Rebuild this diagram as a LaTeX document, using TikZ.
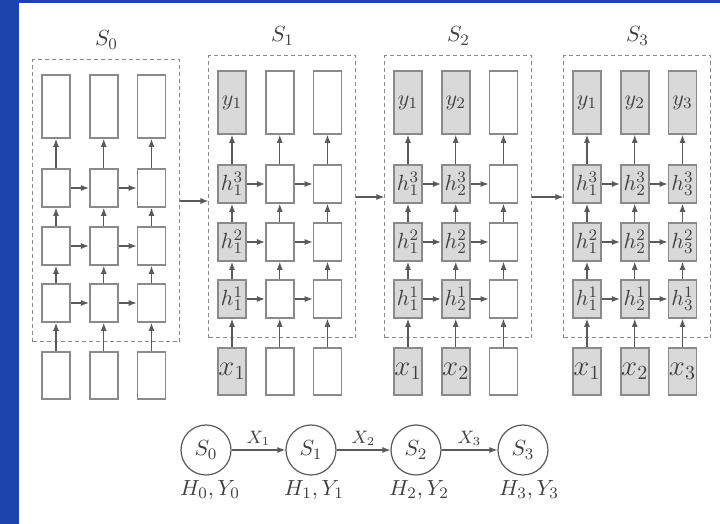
\documentclass[tikz,border=0pt]{standalone}
\usetikzlibrary{arrows.meta,calc}
\definecolor{bg}{HTML}{1B45AB}
\definecolor{ln}{HTML}{8A8A8A}
\definecolor{ar}{HTML}{5A5A5A}
\definecolor{sh}{HTML}{D9D9D9}
\definecolor{tx}{HTML}{404040}
\begin{document}
\begin{tikzpicture}[x=0.5pt,y=-0.5pt,
  cell/.style={draw=ln, line width=0.8pt, fill=white, minimum width=14pt, inner sep=0pt, text=tx, font=\fontsize{10.95}{13}\selectfont},
  outcell/.style={cell, minimum height=31.5pt},
  hidcell/.style={cell, minimum height=19pt},
  incell/.style={cell, minimum height=23.5pt, font=\fontsize{14.4}{16}\selectfont},
  on/.style={fill=sh},
  arr/.style={-{Latex[length=4pt,width=3pt]}, draw=ar, line width=0.6pt},
  panel/.style={draw=ln, dash pattern=on 2pt off 1.5pt, line width=0.5pt, inner sep=0pt, minimum width=73.5pt, minimum height=141pt},
  plabel/.style={text=tx, font=\fontsize{10.95}{13}\selectfont},
  state/.style={circle, draw=ar, line width=0.6pt, minimum size=25pt, inner sep=0pt, text=tx, font=\fontsize{10.95}{13}\selectfont},
  elabel/.style={text=tx, font=\fontsize{9}{11}\selectfont, inner sep=2pt},
  slabel/.style={text=tx, font=\fontsize{10.95}{13}\selectfont}
]
\useasboundingbox (0,0) rectangle (720,524);
\fill[bg] (0,0) rectangle (720,524);
\fill[white] (19,3) rectangle (720,524);

\foreach \p/\xo/\yo in {0/33/60,1/209/56,2/385/56,3/564/56}{
  \node[panel] (p\p) at (\xo+73.5,\yo+141) {};
  \node[plabel] (l\p) at (\xo+73.5,\yo-20) {$S_{\p}$};
  \foreach \c in {1,2,3}{
    \pgfmathsetmacro\cx{\xo+23+47.75*(\c-1)}
    \ifnum\c>\p \def\sty{}\else\def\sty{on}\fi
    \node[outcell,\sty] (o\p\c) at (\cx,\yo+46.5) {\ifnum\c>\p\else$y_{\c}$\fi};
    \node[hidcell,\sty] (h\p\c3) at (\cx,\yo+128) {\ifnum\c>\p\else$h_{\c}^{3}$\fi};
    \node[hidcell,\sty] (h\p\c2) at (\cx,\yo+186) {\ifnum\c>\p\else$h_{\c}^{2}$\fi};
    \node[hidcell,\sty] (h\p\c1) at (\cx,\yo+243) {\ifnum\c>\p\else$h_{\c}^{1}$\fi};
    \node[incell,\sty] (i\p\c) at (\cx,\yo+315.5) {\ifnum\c>\p\else$x_{\c}$\fi};
  }
  \foreach \c in {1,2,3}{
    \draw[arr] (i\p\c) -- (h\p\c1);
    \draw[arr] (h\p\c1) -- (h\p\c2);
    \draw[arr] (h\p\c2) -- (h\p\c3);
    \draw[arr] (h\p\c3) -- (o\p\c);
  }
  \foreach \l in {1,2,3}{
    \draw[arr] (h\p1\l) -- (h\p2\l);
    \draw[arr] (h\p2\l) -- (h\p3\l);
  }
}
\draw[arr] (p0.east) -- (p0.east -| p1.west);
\draw[arr] (p1.east) -- (p1.east -| p2.west);
\draw[arr] (p2.east) -- (p2.east -| p3.west);

\node[state] (c0) at (206,450) {$S_0$};
\node[state] (c1) at (311,450) {$S_1$};
\node[state] (c2) at (416,450) {$S_2$};
\node[state] (c3) at (523,450) {$S_3$};
\draw[arr] (c0) -- node[elabel, above] {$X_1$} (c1);
\draw[arr] (c1) -- node[elabel, above] {$X_2$} (c2);
\draw[arr] (c2) -- node[elabel, above] {$X_3$} (c3);
\node[slabel] (t0) at ($(c0)+(4,40)$) {$H_0,Y_0$};
\node[slabel] (t1) at ($(c1)+(3,40)$) {$H_1,Y_1$};
\node[slabel] (t2) at ($(c2)+(3,40)$) {$H_2,Y_2$};
\node[slabel] (t3) at ($(c3)+(6,40)$) {$H_3,Y_3$};
\end{tikzpicture}
\end{document}
